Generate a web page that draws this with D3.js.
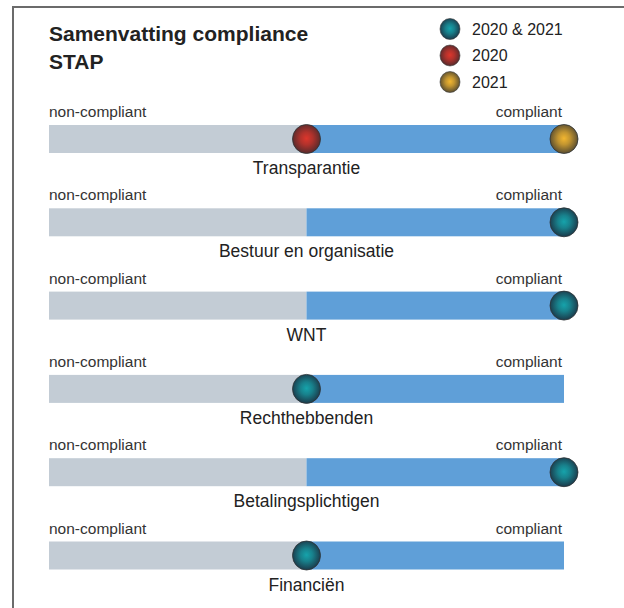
<!DOCTYPE html>
<html lang="en">
<head>
    <meta charset="UTF-8">
    <title>Samenvatting compliance STAP</title>
    <script src="https://cdnjs.cloudflare.com/ajax/libs/d3/7.8.5/d3.min.js"></script>
    <style>
        body {
            margin: 0;
            background: #fff;
        }

        text {
            font-family: "Liberation Sans", Arial, sans-serif;
            fill: #222;
        }
    </style>
</head>
<body>
<div id="chart"></div>

<script>
    // rows of the chart, top to bottom
    let categories = ["Transparantie", "Bestuur en organisatie", "WNT", "Rechthebbenden", "Betalingsplichtigen", "Financiën"];

    // position on the scale 0 = non-compliant, 1 = compliant
    let scores2020 = [0.5, 1, 1, 0.5, 1, 0.5];
    let scores2021 = [1, 1, 1, 0.5, 1, 0.5];

    let legendLabels = ["2020 & 2021", "2020", "2021"];
    let scaleLabels = ["non-compliant", "compliant"];

    let width = 624, height = 608;

    let svg = d3.select("#chart").append("svg")
        .attr("width", width)
        .attr("height", height);

    let defs = svg.append("defs");
    let balls = {
        both: ["#16a3ab", "#1b3344"],
        y2020: ["#dc362c", "#4d2a2c"],
        y2021: ["#f2b630", "#4f4630"]
    };
    Object.keys(balls).forEach(function (key) {
        let g = defs.append("radialGradient").attr("id", "grad_" + key)
            .attr("cx", "50%").attr("cy", "48%").attr("r", "55%");
        g.append("stop").attr("offset", "0%").attr("stop-color", balls[key][0]);
        g.append("stop").attr("offset", "40%").attr("stop-color", d3.interpolateRgb(balls[key][0], balls[key][1])(0.3));
        g.append("stop").attr("offset", "100%").attr("stop-color", balls[key][1]);
    });

    // frame
    svg.append("path")
        .attr("d", "M13,640 L13,7 L640,7")
        .attr("fill", "none")
        .attr("stroke", "#6b6b6b")
        .attr("stroke-width", 2);

    // title
    let title = svg.append("text")
        .attr("x", 49)
        .attr("y", 41)
        .style("font-size", "21px")
        .style("font-weight", "bold");
    title.append("tspan").attr("x", 49).text("Samenvatting compliance");
    title.append("tspan").attr("x", 49).attr("dy", 28).text("STAP");

    // legend
    let legendKeys = ["both", "y2020", "y2021"];
    let legend = svg.selectAll(".legend")
        .data(legendLabels)
        .enter().append("g")
        .attr("class", "legend")
        .attr("transform", (d, i) => "translate(450," + (29 + i * 26.5) + ")");
    legend.append("ellipse")
        .attr("rx", 10).attr("ry", 10.5)
        .attr("fill", (d, i) => "url(#grad_" + legendKeys[i] + ")")
        .attr("stroke", "#3a3a3a").attr("stroke-width", 0.6);
    legend.append("text")
        .attr("x", 22)
        .attr("dy", "0.35em")
        .style("font-size", "16px")
        .text(d => d);

    let x = d3.scaleLinear().domain([0, 1]).range([49, 564]);
    let y = d3.scalePoint().domain(categories).range([139, 555.5]);
    let barH = 28;

    let rows = svg.selectAll(".row")
        .data(categories)
        .enter().append("g")
        .attr("class", "row")
        .attr("transform", d => "translate(0," + y(d) + ")");

    rows.append("rect")
        .attr("x", x(0)).attr("y", -barH / 2)
        .attr("width", x(0.5) - x(0)).attr("height", barH)
        .attr("fill", "#c3ccd5");
    rows.append("rect")
        .attr("x", x(0.5)).attr("y", -barH / 2)
        .attr("width", x(1) - x(0.5)).attr("height", barH)
        .attr("fill", "#5f9fd8");

    rows.append("text")
        .attr("x", x(0)).attr("y", -barH / 2 - 8)
        .style("font-size", "15.5px")
        .style("fill", "#333")
        .text(scaleLabels[0]);
    rows.append("text")
        .attr("x", x(1) - 2).attr("y", -barH / 2 - 8)
        .attr("text-anchor", "end")
        .style("font-size", "15.5px")
        .style("fill", "#333")
        .text(scaleLabels[1]);

    rows.append("text")
        .attr("x", x(0.5)).attr("y", barH / 2 + 21)
        .attr("text-anchor", "middle")
        .style("font-size", "17.5px")
        .text(d => d);

    // balls: one per row when both years agree, else one per year
    rows.each(function (d, i) {
        let marks = [];
        if (scores2020[i] === scores2021[i]) {
            marks.push({v: scores2020[i], key: "both"});
        } else {
            marks.push({v: scores2020[i], key: "y2020"});
            marks.push({v: scores2021[i], key: "y2021"});
        }
        d3.select(this).selectAll(".ball")
            .data(marks)
            .enter().append("ellipse")
            .attr("class", "ball")
            .attr("cx", m => x(m.v))
            .attr("cy", 0)
            .attr("rx", 14).attr("ry", 14.5)
            .attr("fill", m => "url(#grad_" + m.key + ")")
            .attr("stroke", "#2f3336").attr("stroke-width", 0.8);
    });
</script>
</body>
</html>
